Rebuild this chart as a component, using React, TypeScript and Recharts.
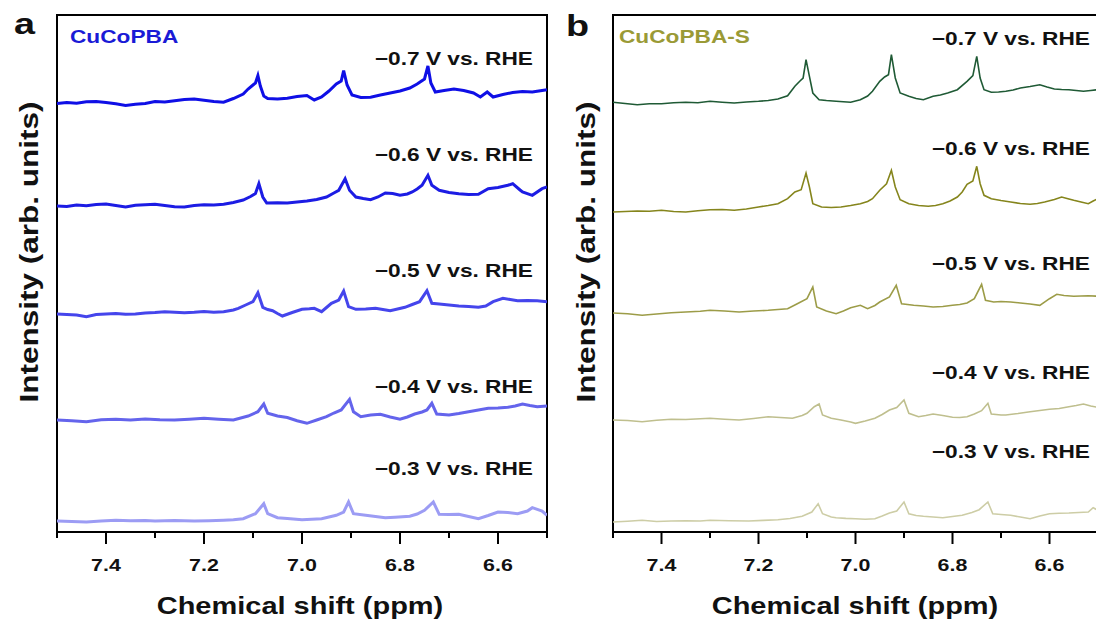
import { LineChart, Line, XAxis, YAxis, ReferenceArea } from "recharts";

type Pt = [number, number];

/*
  TICKS + LABELS
*/

const shiftTicks = [7.5, 7.4, 7.3, 7.2, 7.1, 7.0, 6.9, 6.8, 6.7, 6.6, 6.5];

const potentials = [
  "\u22120.7 V vs. RHE",
  "\u22120.6 V vs. RHE",
  "\u22120.5 V vs. RHE",
  "\u22120.4 V vs. RHE",
  "\u22120.3 V vs. RHE",
];

/*
  CuCoPBA SPECTRA (shift ppm, intensity above baseline)
*/

const pba07: Pt[] = [
  [7.5, -0.5], [7.48, 0.5], [7.46, -0.3], [7.44, 1.2], [7.42, 1.5], [7.4, 0.6], [7.38, -0.8], [7.36, -2.4],
  [7.34, -1.2], [7.32, -0.5], [7.3, 1.5], [7.28, 1.0], [7.26, 2.2], [7.24, 3.6], [7.22, 4.0], [7.2, 2.8],
  [7.18, 1.6], [7.16, 0.8], [7.14, 4.5], [7.12, 9], [7.11, 14], [7.1, 18], [7.095, 20], [7.09, 27.5],
  [7.085, 17], [7.078, 7], [7.07, 4.5], [7.05, 4], [7.03, 4.8], [7.01, 6.5], [6.99, 7.5], [6.975, 3],
  [6.96, 6], [6.945, 12], [6.93, 19], [6.92, 22], [6.915, 32.5], [6.908, 18], [6.898, 8], [6.88, 5.5],
  [6.86, 5.8], [6.84, 8], [6.82, 10], [6.8, 12], [6.78, 15], [6.765, 19], [6.75, 24], [6.743, 37],
  [6.737, 20], [6.728, 11], [6.71, 12.5], [6.69, 14], [6.67, 12.5], [6.65, 10], [6.636, 6], [6.622, 11],
  [6.61, 6], [6.59, 8.5], [6.57, 10.5], [6.55, 11.5], [6.53, 11], [6.51, 12.5], [6.5, 13.3],
];

const pba06: Pt[] = [
  [7.5, 0], [7.48, -0.5], [7.46, 1], [7.44, 0.3], [7.42, 1.5], [7.4, 2], [7.38, 0.5], [7.36, -1],
  [7.34, 0.8], [7.32, 1.2], [7.3, 1.8], [7.28, 0.5], [7.26, -0.8], [7.24, -1], [7.22, 0.5], [7.2, 1.3],
  [7.18, 1], [7.16, 1.8], [7.14, 3.5], [7.12, 6], [7.105, 9.5], [7.095, 12.5], [7.088, 22.3], [7.08, 9],
  [7.072, 3], [7.05, 3.2], [7.03, 3], [7.01, 4], [6.99, 5], [6.97, 6.5], [6.95, 9], [6.935, 13],
  [6.925, 15.7], [6.912, 27.3], [6.903, 15.7], [6.89, 9], [6.875, 7.5], [6.86, 6.3], [6.845, 9], [6.83, 13],
  [6.815, 12.5], [6.8, 10.7], [6.785, 12], [6.775, 14], [6.765, 17], [6.755, 20.7], [6.743, 30.7], [6.735, 20.7],
  [6.72, 15.7], [6.7, 13.5], [6.68, 12.3], [6.66, 11.5], [6.64, 11.7], [6.62, 17.3], [6.6, 18.5], [6.58, 20.7],
  [6.57, 22.3], [6.555, 16], [6.55, 14], [6.53, 10.7], [6.51, 17.3], [6.5, 19],
];

const pba05: Pt[] = [
  [7.5, 0], [7.48, -0.5], [7.46, -1], [7.44, -2.7], [7.42, -0.5], [7.4, 0], [7.38, 0.5], [7.36, -0.3],
  [7.34, 0], [7.32, 1], [7.3, 1.5], [7.28, 2.3], [7.26, 1.8], [7.24, 1.2], [7.22, 1.7], [7.2, 2.5],
  [7.18, 1.8], [7.16, 2.3], [7.14, 4], [7.13, 5.7], [7.115, 9], [7.1, 12.3], [7.09, 21.3], [7.08, 6.7],
  [7.07, 4.5], [7.06, 3.3], [7.05, 0.5], [7.04, -2], [7.02, 1.5], [7.0, 4.7], [6.985, 5.2], [6.975, 5.7],
  [6.96, 2.3], [6.95, 6.5], [6.94, 10.7], [6.925, 14], [6.915, 23], [6.905, 7.3], [6.89, 4.7], [6.87, 5],
  [6.85, 5.7], [6.835, 4.5], [6.82, 3.3], [6.805, 5], [6.79, 6.7], [6.775, 9.5], [6.76, 12.3], [6.745, 23.3],
  [6.735, 10.7], [6.72, 10], [6.7, 9], [6.68, 8], [6.66, 7.5], [6.64, 6.7], [6.625, 8], [6.61, 12.3],
  [6.59, 15.7], [6.575, 14.5], [6.56, 13.3], [6.54, 13.5], [6.52, 13.3], [6.5, 12.3],
];

const pba04: Pt[] = [
  [7.5, 0], [7.47, -0.8], [7.44, -1.7], [7.41, 0.2], [7.38, 0.7], [7.35, 0], [7.32, 1], [7.29, 0.3],
  [7.26, 0], [7.23, 0.8], [7.2, 1.7], [7.17, 0.8], [7.14, 0], [7.11, 4], [7.09, 8.3], [7.078, 16],
  [7.07, 6.7], [7.05, 4], [7.03, 2.5], [7.01, -0.7], [6.99, -3.3], [6.97, 0], [6.95, 3.3], [6.935, 7],
  [6.92, 10], [6.903, 20.7], [6.895, 8.3], [6.88, 3.3], [6.86, 5], [6.84, 5.7], [6.82, 3], [6.8, 0.7],
  [6.785, 3], [6.77, 6], [6.755, 8], [6.745, 10], [6.735, 16.7], [6.725, 6], [6.7, 5], [6.68, 6.5],
  [6.66, 8.3], [6.64, 10], [6.62, 11.7], [6.6, 12], [6.58, 12.7], [6.565, 14], [6.55, 16], [6.535, 14.5],
  [6.52, 13.3], [6.5, 14],
];

const pba03: Pt[] = [
  [7.5, 1], [7.47, 0.5], [7.44, 0], [7.41, 1], [7.38, 1.7], [7.35, 1.2], [7.32, 1.5], [7.3, 1],
  [7.26, 1.5], [7.22, 1], [7.19, 1.2], [7.16, 1.7], [7.14, 2.2], [7.12, 3.3], [7.095, 8.3], [7.078, 18.3],
  [7.07, 8.3], [7.05, 4.3], [7.03, 3.5], [7.0, 2.3], [6.98, 2.8], [6.96, 3.3], [6.945, 5], [6.93, 6.7],
  [6.915, 10], [6.905, 20], [6.895, 8.3], [6.87, 6.7], [6.85, 5.5], [6.83, 4.3], [6.81, 4.8], [6.78, 5.7],
  [6.765, 8], [6.75, 11.7], [6.732, 20], [6.72, 7.7], [6.7, 7.5], [6.68, 7.7], [6.66, 5.5], [6.64, 3.3],
  [6.62, 6.5], [6.6, 10], [6.58, 9.5], [6.56, 8.3], [6.54, 11], [6.53, 14.3], [6.51, 11], [6.5, 6.7],
];

/*
  CuCoPBA-S SPECTRA
*/

const pbaS07: Pt[] = [
  [7.5, 0.7], [7.475, -0.5], [7.45, -1.7], [7.425, -0.8], [7.4, -0.7], [7.375, 0.2], [7.35, 0.7], [7.325, 0.3],
  [7.3, 1.7], [7.275, 0.8], [7.25, 0], [7.225, 1], [7.2, 1.7], [7.18, 2.5], [7.16, 4], [7.14, 7.3],
  [7.125, 16.7], [7.115, 21.7], [7.108, 25], [7.102, 43.3], [7.095, 26.7], [7.088, 10], [7.075, 3.3], [7.06, 2.5],
  [7.04, 1.7], [7.025, 1.2], [7.01, 0.7], [6.99, 3.3], [6.975, 7], [6.965, 11.7], [6.95, 21.7], [6.94, 26],
  [6.932, 28.3], [6.926, 48.3], [6.918, 25], [6.908, 10], [6.89, 6.7], [6.875, 4.5], [6.86, 3.3], [6.84, 6.7],
  [6.825, 8], [6.81, 10], [6.79, 13.3], [6.77, 21.7], [6.758, 27.3], [6.75, 46.7], [6.743, 25], [6.735, 13.3],
  [6.72, 10.7], [6.705, 11], [6.69, 11.7], [6.675, 13], [6.66, 15], [6.64, 16.5], [6.62, 18.3], [6.605, 16],
  [6.59, 14], [6.575, 13.5], [6.56, 13.3], [6.545, 12.5], [6.53, 11.7], [6.515, 12.5], [6.5, 13.3],
];

const pbaS06: Pt[] = [
  [7.5, 0], [7.475, 0.5], [7.45, 1], [7.425, 0.8], [7.4, 1.7], [7.375, 0.5], [7.35, 0], [7.325, 1.2],
  [7.3, 2.3], [7.275, 2.5], [7.25, 1.7], [7.225, 3], [7.2, 5], [7.18, 6.5], [7.16, 8.3], [7.14, 13.3],
  [7.125, 20], [7.112, 22.3], [7.102, 39], [7.095, 25], [7.088, 8.3], [7.07, 5], [7.05, 4.5], [7.03, 5],
  [7.01, 6.5], [6.99, 8.3], [6.975, 10.5], [6.965, 13.3], [6.95, 21.7], [6.936, 28.3], [6.926, 41.7], [6.918, 25],
  [6.908, 12.3], [6.89, 8.3], [6.87, 6.5], [6.85, 5.7], [6.835, 6.5], [6.82, 8.3], [6.805, 11], [6.79, 15],
  [6.78, 20], [6.77, 27.7], [6.758, 31], [6.75, 45.7], [6.743, 28.3], [6.735, 16.7], [6.72, 13.3], [6.7, 11.5],
  [6.68, 10], [6.66, 8.5], [6.64, 7.7], [6.625, 8.5], [6.61, 10], [6.59, 12.5], [6.575, 15], [6.56, 13],
  [6.55, 11.7], [6.535, 10], [6.52, 8.3], [6.51, 11], [6.5, 13.3],
];

const pbaS05: Pt[] = [
  [7.5, 0], [7.47, -0.8], [7.44, -2.3], [7.41, -1], [7.38, 0.3], [7.35, 1], [7.32, 1.8], [7.3, 2.7],
  [7.27, 2], [7.24, 1], [7.21, 2], [7.18, 2.7], [7.16, 3.5], [7.14, 4.3], [7.12, 9.3], [7.1, 14.3],
  [7.088, 26], [7.08, 6], [7.06, 2], [7.04, -0.7], [7.025, 2], [7.01, 5.3], [6.99, 7.7], [6.975, 4.3],
  [6.96, 7.5], [6.95, 11], [6.93, 16], [6.916, 27.7], [6.905, 9.3], [6.88, 7.7], [6.86, 7], [6.84, 6],
  [6.82, 6.5], [6.8, 7.7], [6.785, 8.5], [6.77, 10], [6.755, 14.3], [6.74, 28.7], [6.732, 12.7], [6.715, 11],
  [6.7, 11.5], [6.68, 11], [6.66, 10], [6.64, 9], [6.62, 7.7], [6.6, 14.3], [6.585, 18.7], [6.57, 17.5],
  [6.55, 16.7], [6.535, 17], [6.52, 17.3], [6.5, 16.7],
];

const pbaS04: Pt[] = [
  [7.5, 0], [7.47, -0.5], [7.44, -1.7], [7.41, -0.3], [7.38, 0.7], [7.35, 0.5], [7.32, 1.2], [7.3, 1.7],
  [7.27, 0.8], [7.24, 0], [7.21, 1.5], [7.18, 3.3], [7.155, 2.5], [7.13, 1.7], [7.11, 4.5], [7.1, 6.7],
  [7.085, 13.3], [7.075, 16], [7.068, 5], [7.05, 1.7], [7.03, 0], [7.01, -2], [7.0, -3.3], [6.98, -1],
  [6.96, 1.7], [6.945, 5.5], [6.93, 10], [6.915, 12.5], [6.9, 20], [6.89, 6.7], [6.87, 3.3], [6.855, 4.5],
  [6.84, 6], [6.82, 4.5], [6.8, 2.7], [6.785, 2.5], [6.77, 3.3], [6.755, 6], [6.74, 9.3], [6.727, 16.7],
  [6.72, 6], [6.7, 5], [6.69, 5], [6.665, 6.5], [6.64, 8.3], [6.62, 9.5], [6.6, 10.7], [6.58, 11.5],
  [6.56, 13.3], [6.545, 14.5], [6.53, 16], [6.515, 14], [6.5, 12.7],
];

const pbaS03: Pt[] = [
  [7.5, 0], [7.47, 0.8], [7.44, 1.7], [7.41, 0.5], [7.38, 1], [7.35, 1.3], [7.32, 1], [7.3, 1.7],
  [7.26, 1.2], [7.22, 1], [7.19, 1.6], [7.16, 2.3], [7.135, 3.5], [7.11, 5.7], [7.09, 10], [7.077, 18.3],
  [7.068, 8.3], [7.05, 5], [7.04, 4.3], [7.02, 3.6], [7.0, 3.3], [6.98, 2.8], [6.96, 3.3], [6.945, 6],
  [6.93, 9], [6.915, 11], [6.9, 20], [6.89, 8.3], [6.875, 6.5], [6.86, 5.7], [6.84, 5], [6.82, 4.3],
  [6.8, 5.5], [6.78, 6.7], [6.76, 9.5], [6.745, 12.3], [6.727, 20], [6.717, 8.3], [6.7, 7.5], [6.68, 6.7],
  [6.66, 5], [6.64, 3.3], [6.62, 6], [6.6, 8.3], [6.58, 8.8], [6.56, 9], [6.54, 9.5], [6.52, 10],
  [6.51, 14.3], [6.5, 11.7],
];

// vertical stacking offsets, top trace first
const pbaOffsets = [429, 326, 218, 112, 10];
const pbaSOffsets = [429, 320, 219, 112, 10];

const pbaColors = ["#0f0fe6", "#1c1ce4", "#4545ec", "#6464ec", "#9c9cf4"];
const pbaSColors = ["#1f5a35", "#85851c", "#9c9c48", "#bfbf8e", "#cdcda6"];

const FONT = "'Liberation Sans', Arial, sans-serif";
const STRETCH = 1.26;

const ShiftTick = (props: any) => {
  const { x, y, payload } = props;
  const major = Math.round(payload.value * 10) % 2 === 0;
  return (
    <g>
      <line x1={x} x2={x} y1={y} y2={y + (major ? 12 : 6)} stroke="#000" strokeWidth={2} />
      {major && (
        <text
          transform={`translate(${x},${y + 33}) scale(${STRETCH},1)`}
          textAnchor="middle"
          dominantBaseline="central"
          fontFamily={FONT}
          fontWeight="bold"
          fontSize={17}
          fill="#111"
        >
          {payload.value.toFixed(1)}
        </text>
      )}
    </g>
  );
};

interface PanelProps {
  traces: Pt[][];
  offsets: number[];
  colors: string[];
  lineWidth: number;
  left: number;
  plotWidth: number;
}

const SpectraPanel = ({ traces, offsets, colors, lineWidth, left, plotWidth }: PanelProps) => (
  <div style={{ position: "absolute", left, top: 0 }}>
    <LineChart
      width={57 + plotWidth + 13}
      height={626}
      margin={{ top: 15, right: 13, bottom: 0, left: 57 }}
    >
      <XAxis
        dataKey="shift"
        type="number"
        domain={[6.5, 7.5]}
        reversed
        allowDataOverflow
        ticks={shiftTicks}
        interval={0}
        height={94}
        tickSize={0}
        tickMargin={0}
        tickLine={false}
        axisLine={{ stroke: "#000", strokeWidth: 2 }}
        tick={<ShiftTick />}
      />
      <YAxis type="number" domain={[0, 517]} hide allowDataOverflow />
      {traces.map((trace, i) => (
        <Line
          key={i}
          data={trace.map(([shift, v]) => ({ shift, value: v + offsets[i] }))}
          dataKey="value"
          type="linear"
          stroke={colors[i]}
          strokeWidth={lineWidth}
          dot={false}
          activeDot={false}
          isAnimationActive={false}
        />
      ))}
      <ReferenceArea
        x1={7.5}
        x2={6.5}
        y1={0}
        y2={517}
        fill="none"
        stroke="#000"
        strokeWidth={2}
        ifOverflow="visible"
      />
    </LineChart>
  </div>
);

// bold label, widened along its own baseline
const T = ({ x, y, size, anchor = "start", color = "#111", rotate = 0, baseline = "central", children }: any) => (
  <text
    transform={`translate(${x},${y}) rotate(${rotate}) scale(${STRETCH},1)`}
    textAnchor={anchor}
    dominantBaseline={baseline}
    fontFamily={FONT}
    fontWeight="bold"
    fontSize={size}
    fill={color}
  >
    {children}
  </text>
);

const labelYA = [58, 154, 270, 386, 468];
const labelYB = [38, 148, 263, 372, 451];

export default function App() {
  return (
    <div
      style={{
        position: "absolute",
        left: 0,
        top: 0,
        width: 1096,
        height: 626,
        overflow: "hidden",
        background: "#fff",
      }}
    >
      <SpectraPanel
        traces={[pba07, pba06, pba05, pba04, pba03]}
        offsets={pbaOffsets}
        colors={pbaColors}
        lineWidth={3}
        left={0}
        plotWidth={490}
      />
      <SpectraPanel
        traces={[pbaS07, pbaS06, pbaS05, pbaS04, pbaS03]}
        offsets={pbaSOffsets}
        colors={pbaSColors}
        lineWidth={1.6}
        left={556}
        plotWidth={485}
      />

      {/* text layer */}
      <svg
        width={1096}
        height={626}
        style={{ position: "absolute", left: 0, top: 0, pointerEvents: "none" }}
      >
        <T x={14} y={34} size={30} baseline="alphabetic">a</T>
        <T x={566} y={36} size={30} baseline="alphabetic">b</T>

        <T x={70} y={36} size={18} color="#1a1ad6">CuCoPBA</T>
        <T x={619} y={36} size={18} color="#9a9a36">CuCoPBA-S</T>

        {potentials.map((p, i) => (
          <T key={"a" + i} x={533} y={labelYA[i]} size={18} anchor="end">{p}</T>
        ))}
        {potentials.map((p, i) => (
          <T key={"b" + i} x={1090} y={labelYB[i]} size={18} anchor="end">{p}</T>
        ))}

        <T x={300} y={606} size={23} anchor="middle">Chemical shift (ppm)</T>
        <T x={855} y={606} size={23} anchor="middle">Chemical shift (ppm)</T>

        <T x={29} y={252} size={25} anchor="middle" rotate={-90}>Intensity (arb. units)</T>
        <T x={586} y={252} size={25} anchor="middle" rotate={-90}>Intensity (arb. units)</T>
      </svg>
    </div>
  );
}
